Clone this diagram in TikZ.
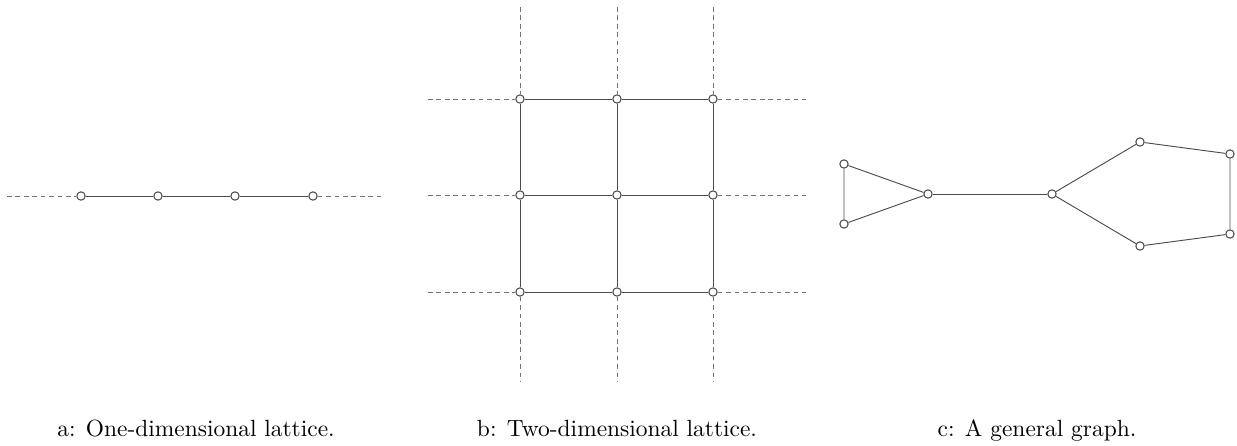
\documentclass[tikz,border=0pt]{standalone}
\usetikzlibrary{positioning}
\tikzset{
  site/.style={circle, draw=black!70, fill=white, line width=0.45pt, inner sep=0pt, minimum size=0.125cm},
  bond/.style={draw=black!70, line width=0.4pt},
  openbond/.style={draw=black!55, line width=0.4pt, dash pattern=on 2pt off 1.6pt},
}
\begin{document}
\begin{tikzpicture}[x=0.015cm, y=-0.015cm]
  \useasboundingbox (0,0) rectangle (1237,446);

  % one-dimensional lattice
  \coordinate (a0) at (7,196);
  \coordinate (a5) at (385,196);
  \foreach \i/\x in {1/81, 2/158, 3/235, 4/313}
    \node[site] (a\i) at (\x,196) {};
  \draw[openbond] (a0) -- (a1);
  \draw[bond] (a1) -- (a2) -- (a3) -- (a4);
  \draw[openbond] (a4) -- (a5);

  % two-dimensional lattice
  \foreach \i/\x in {1/520, 2/617, 3/713}
    \foreach \j/\y in {1/99, 2/195, 3/292}
      \node[site] (b\i\j) at (\x,\y) {};
  \foreach \j/\y in {1/99, 2/195, 3/292} {
    \coordinate (bl\j) at (428,\y);
    \coordinate (br\j) at (806,\y);
    \draw[openbond] (bl\j) -- (b1\j);
    \draw[bond] (b1\j) -- (b2\j) -- (b3\j);
    \draw[openbond] (b3\j) -- (br\j);
  }
  \foreach \i/\x in {1/520, 2/617, 3/713} {
    \coordinate (bt\i) at (\x,7);
    \coordinate (bb\i) at (\x,382);
    \draw[openbond] (bt\i) -- (b\i1);
    \draw[bond] (b\i1) -- (b\i2) -- (b\i3);
    \draw[openbond] (b\i3) -- (bb\i);
  }

  % general graph
  \node[site] (c1) at (844,164) {};
  \node[site] (c2) at (844,224) {};
  \node[site] (c3) at (928,194) {};
  \node[site] (c4) at (1052,194) {};
  \node[site] (c5) at (1140,142) {};
  \node[site] (c6) at (1230,154) {};
  \node[site] (c7) at (1230,234) {};
  \node[site] (c8) at (1140,246) {};
  \draw[bond] (c1) -- (c2) -- (c3) -- (c1);
  \draw[bond] (c3) -- (c4);
  \draw[bond] (c4) -- (c5) -- (c6) -- (c7) -- (c8) -- (c4);

  % captions
  \node[anchor=base] (capa) at (196,436) {a: One-dimensional lattice.};
  \node[anchor=base] (capb) at (617,436) {b: Two-dimensional lattice.};
  \node[anchor=base] (capc) at (1037,436) {c: A general graph.};
\end{tikzpicture}
\end{document}
